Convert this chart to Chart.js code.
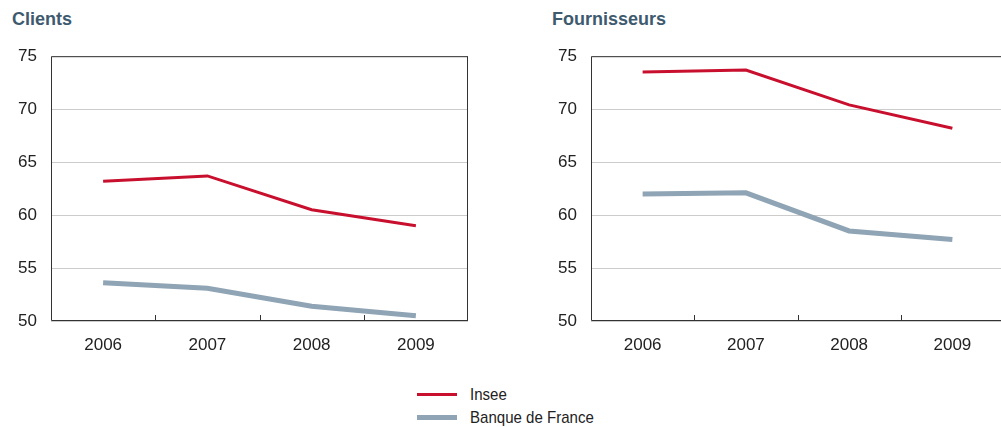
<!DOCTYPE html>
<html lang="fr">
<head>
    <meta charset="UTF-8">
    <title>Clients / Fournisseurs</title>
    <script src="https://cdn.jsdelivr.net/npm/chart.js@4.4.1/dist/chart.umd.min.js"></script>
    <style>
        body {
            margin: 0;
            padding: 0;
            background: #ffffff;
            width: 1001px;
            height: 427px;
            position: relative;
            overflow: hidden;
            font-family: 'Liberation Sans', Arial, sans-serif;
        }
        .titre {
            position: absolute;
            top: 9px;
            font-size: 18px;
            font-weight: bold;
            color: #3e5a6e;
        }
        .panel {
            position: absolute;
            top: 32px;
            height: 319px;
        }
        .legend {
            position: absolute;
            left: 417px;
            top: 383px;
            font-size: 17px;
            color: #222;
        }
        .legend-item {
            display: flex;
            align-items: center;
            height: 23px;
        }
        .legend-line {
            width: 40px;
            margin-right: 13px;
        }
        .legend-text {
            display: inline-block;
            transform: scaleX(0.885);
            transform-origin: left center;
        }
    </style>
</head>
<body>
    <div class="titre" style="left:12px">Clients</div>
    <div class="titre" style="left:552px">Fournisseurs</div>

    <div class="panel" style="left:0; width:469px"><canvas id="clients"></canvas></div>
    <div class="panel" style="left:540px; width:465px"><canvas id="fournisseurs"></canvas></div>

    <div class="legend">
        <div class="legend-item"><span class="legend-line" style="border-top:3px solid #c8102e"></span><span class="legend-text">Insee</span></div>
        <div class="legend-item"><span class="legend-line" style="border-top:5px solid #8fa4b4"></span><span class="legend-text">Banque de France</span></div>
    </div>

    <script>
        // Données
        const annees = ['2006', '2007', '2008', '2009'];
        const clientsInsee = [63.2, 63.7, 60.5, 59.0];
        const clientsBdf = [53.6, 53.1, 51.4, 50.5];
        const fournInsee = [73.5, 73.7, 70.4, 68.2];
        const fournBdf = [62.0, 62.1, 58.5, 57.7];
        const yTicks = [50, 55, 60, 65, 70, 75];

        const rouge = '#c8102e';
        const gris = '#8fa4b4';
        const policeAxes = "'Liberation Sans', Arial, sans-serif";

        // cadre autour de la zone de tracé + petites graduations vers le haut
        const cadre = {
            id: 'cadre',
            afterDraw(chart, args, opts) {
                const ctx = chart.ctx;
                const a = chart.chartArea;
                const x = chart.scales.x;
                const l = a.left + 0.5, r = a.right - 0.5, t = a.top + 0.5, b = a.bottom - 0.5;
                ctx.save();
                ctx.strokeStyle = '#333333';
                ctx.lineWidth = 1;
                ctx.beginPath();
                if (opts.droite) {
                    ctx.moveTo(r, t);
                    ctx.lineTo(r, b);
                }
                ctx.moveTo(a.right, t);
                ctx.lineTo(l, t);
                ctx.lineTo(l, b);
                ctx.lineTo(a.right, b);
                for (let i = 1; i < annees.length; i++) {
                    const px = Math.round((x.getPixelForTick(i - 1) + x.getPixelForTick(i)) / 2) + 0.5;
                    ctx.moveTo(px, a.bottom);
                    ctx.lineTo(px, a.bottom - 6);
                }
                ctx.stroke();
                ctx.restore();
            }
        };

        function graphique(id, insee, bdf, droite) {
            return new Chart(document.getElementById(id), {
                type: 'line',
                data: {
                    labels: annees,
                    datasets: [
                        {
                            label: 'Banque de France',
                            data: bdf,
                            borderColor: gris,
                            borderWidth: 5,
                            pointRadius: 0,
                            tension: 0
                        },
                        {
                            label: 'Insee',
                            data: insee,
                            borderColor: rouge,
                            borderWidth: 3,
                            pointRadius: 0,
                            tension: 0
                        }
                    ]
                },
                options: {
                    responsive: true,
                    maintainAspectRatio: false,
                    animation: false,
                    layout: { padding: { top: 0, right: 1, left: 0, bottom: 0 } },
                    plugins: {
                        legend: { display: false },
                        tooltip: { enabled: false },
                        cadre: { droite: droite }
                    },
                    scales: {
                        x: {
                            offset: true,
                            grid: { display: false },
                            border: { display: false },
                            ticks: {
                                color: '#222',
                                font: { family: policeAxes, size: 17 },
                                padding: 6
                            },
                            afterFit(scale) { scale.height = 30; }
                        },
                        y: {
                            min: 50,
                            max: 75,
                            afterBuildTicks(scale) {
                                scale.ticks = yTicks.map(v => ({ value: v }));
                            },
                            grid: {
                                color: '#cccccc',
                                drawTicks: false
                            },
                            border: { display: false },
                            ticks: {
                                color: '#222',
                                font: { family: policeAxes, size: 17 },
                                padding: 14
                            },
                            afterFit(scale) { scale.width = 51; }
                        }
                    }
                },
                plugins: [cadre]
            });
        }

        graphique('clients', clientsInsee, clientsBdf, true);
        graphique('fournisseurs', fournInsee, fournBdf, false);
    </script>
</body>
</html>
